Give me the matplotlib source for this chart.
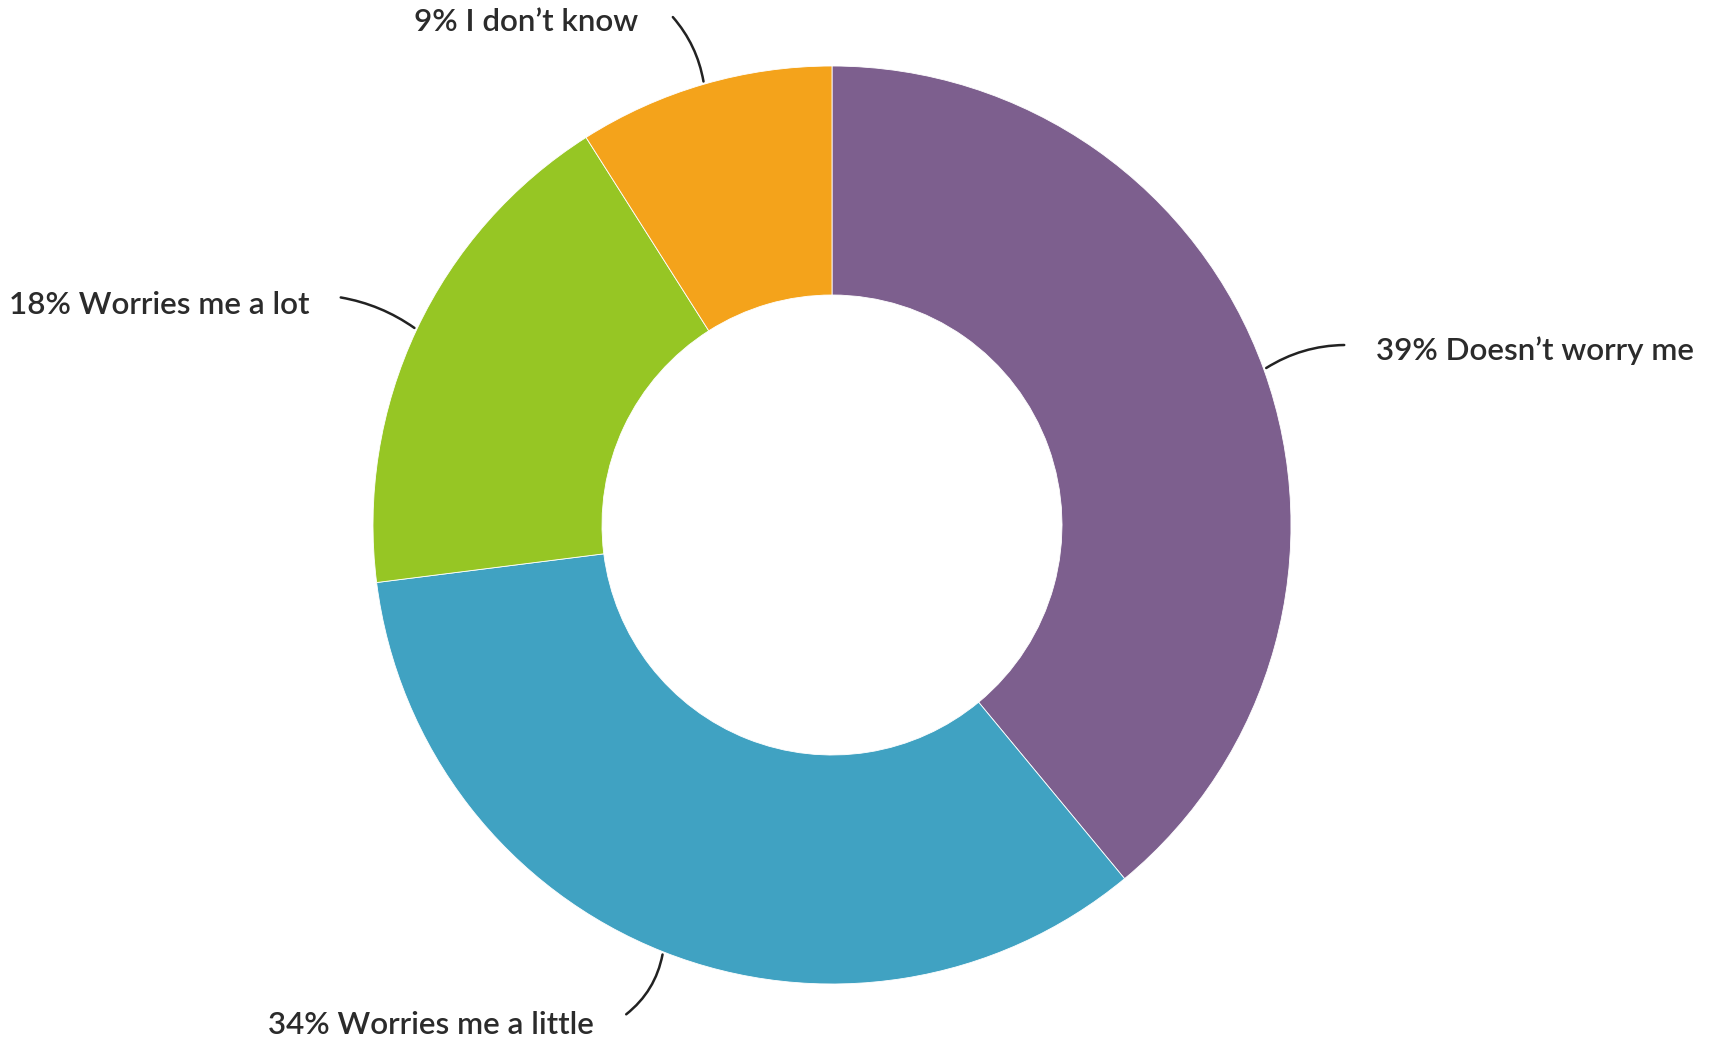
import numpy as np
import matplotlib.pyplot as plt

labels = ["Doesn’t worry me", "Worries me a little", "Worries me a lot", "I don’t know"]
shares = [39, 34, 18, 9]
colors = ["#7D5F8E", "#40A2C2", "#96C624", "#F4A31B"]

W, H = 1710, 1046
cx, cy = 832, H - 525
r_out, r_in = 459, 230

# where each label sits (pixel coords from top-left) and where its leader line ends
label_pos = [(1376, 351, "left"), (594, 1025, "right"), (309, 305, "right"), (638, 22, "right")]
line_end = [(1347, 345), (624, 1016), (338, 297), (671, 15)]
line_rad = [0.15, 0.2, -0.12, -0.15]

plt.rcParams['font.family'] = ['Lato', 'DejaVu Sans']

fig = plt.figure(figsize=(W / 100, H / 100), dpi=100)
ax = fig.add_axes([0, 0, 1, 1])

wedges, _ = ax.pie(shares, colors=colors, startangle=90, counterclock=False,
                   center=(cx, cy), radius=r_out, frame=True,
                   wedgeprops=dict(width=r_out - r_in, edgecolor='white', linewidth=0.6))
ax.set_xlim(0, W)
ax.set_ylim(0, H)
ax.axis('off')

for i, w in enumerate(wedges):
    mid = np.deg2rad((w.theta1 + w.theta2) / 2)
    ax_pt = (cx + r_out * np.cos(mid), cy + r_out * np.sin(mid))
    ex, ey = line_end[i]
    ax.annotate("", xy=ax_pt, xytext=(ex, H - ey),
                arrowprops=dict(arrowstyle='-', color='#222222', lw=1.8,
                                connectionstyle=f"arc3,rad={line_rad[i]}"))
    tx, ty, ha = label_pos[i]
    ax.text(tx, H - ty, f"{shares[i]}% {labels[i]}", ha=ha, va='center',
            fontsize=22.6, fontweight='semibold', color='#2b2b2b')

fig.savefig("out.png", dpi=100)
